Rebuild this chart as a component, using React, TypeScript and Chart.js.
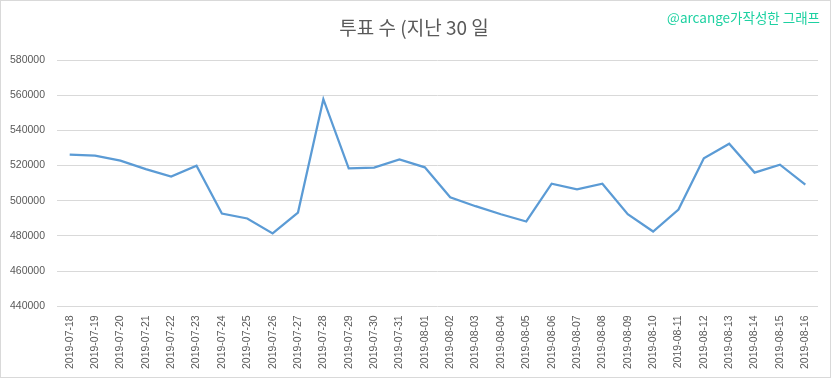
import React, { useEffect, useRef } from "react";
import { Chart, registerables } from "chart.js";

Chart.register(...registerables);

const categories = [
  "2019-07-18", "2019-07-19", "2019-07-20", "2019-07-21", "2019-07-22", "2019-07-23",
  "2019-07-24", "2019-07-25", "2019-07-26", "2019-07-27", "2019-07-28", "2019-07-29",
  "2019-07-30", "2019-07-31", "2019-08-01", "2019-08-02", "2019-08-03", "2019-08-04",
  "2019-08-05", "2019-08-06", "2019-08-07", "2019-08-08", "2019-08-09", "2019-08-10",
  "2019-08-11", "2019-08-12", "2019-08-13", "2019-08-14", "2019-08-15", "2019-08-16",
];

const votes = [
  526200, 525600, 522800, 518000, 513700, 519900,
  492700, 489900, 481400, 493300, 557700, 518400,
  518800, 523500, 519000, 502000, 496900, 492300,
  488200, 509700, 506500, 509700, 492300, 482500,
  495000, 524100, 532400, 516000, 520500, 509200,
];

const yMin = 440000;
const yMax = 580000;
const yStep = 20000;

const titleText = "투표 수 (지난 30 일";
const watermarkText = "@arcange가작성한 그래프";

export default function App() {
  const ref = useRef<HTMLCanvasElement>(null);

  useEffect(() => {
    document.body.style.margin = "0";
    const canvas = ref.current;
    if (!canvas) return;

    const decor = {
      id: "decor",
      afterDraw(chart: any) {
        const ctx = chart.ctx;
        ctx.save();
        ctx.strokeStyle = "#d9d9d9";
        ctx.lineWidth = 1;
        ctx.strokeRect(0.5, 0.5, 830, 377);
        ctx.fillStyle = "#595959";
        ctx.font = '19px "Noto Sans CJK KR"';
        ctx.textAlign = "center";
        ctx.textBaseline = "middle";
        ctx.fillText(titleText, 414, 28);
        ctx.fillStyle = "#1dd1a1";
        ctx.font = '13.5px "Noto Sans CJK KR"';
        ctx.textAlign = "right";
        ctx.fillText(watermarkText, 820, 18);
        ctx.restore();
      },
    };

    const chart = new Chart(canvas, {
      type: "line",
      data: {
        labels: categories,
        datasets: [
          {
            data: votes,
            borderColor: "#5b9bd5",
            borderWidth: 2.25,
            pointRadius: 0,
            tension: 0,
            fill: false,
          },
        ],
      },
      options: {
        responsive: false,
        animation: false,
        layout: { padding: { top: 60, right: 14, bottom: 1, left: 9 } },
        plugins: {
          legend: { display: false },
          tooltip: { enabled: false },
          title: { display: false },
        },
        scales: {
          x: {
            offset: true,
            grid: { display: false, drawTicks: false },
            border: { display: false },
            afterFit: (s: any) => {
              s.paddingLeft = 0;
              s.paddingRight = 0;
            },
            ticks: {
              autoSkip: false,
              minRotation: 90,
              maxRotation: 90,
              color: "#595959",
              font: { family: "Liberation Sans", size: 10.5 },
              padding: 9,
            },
          },
          y: {
            min: yMin,
            max: yMax,
            grid: { color: "#d9d9d9", drawTicks: false },
            border: { display: false },
            afterFit: (s: any) => {
              s.width = 48;
            },
            ticks: {
              stepSize: yStep,
              color: "#595959",
              font: { family: "Liberation Sans", size: 10.5 },
              padding: 12,
              callback: (v: any) => String(v),
            },
          },
        },
      },
      plugins: [decor],
    });

    return () => chart.destroy();
  }, []);

  return (
    <div style={{ width: 832, height: 379, background: "#fff" }}>
      <canvas ref={ref} width={832} height={379} />
    </div>
  );
}
